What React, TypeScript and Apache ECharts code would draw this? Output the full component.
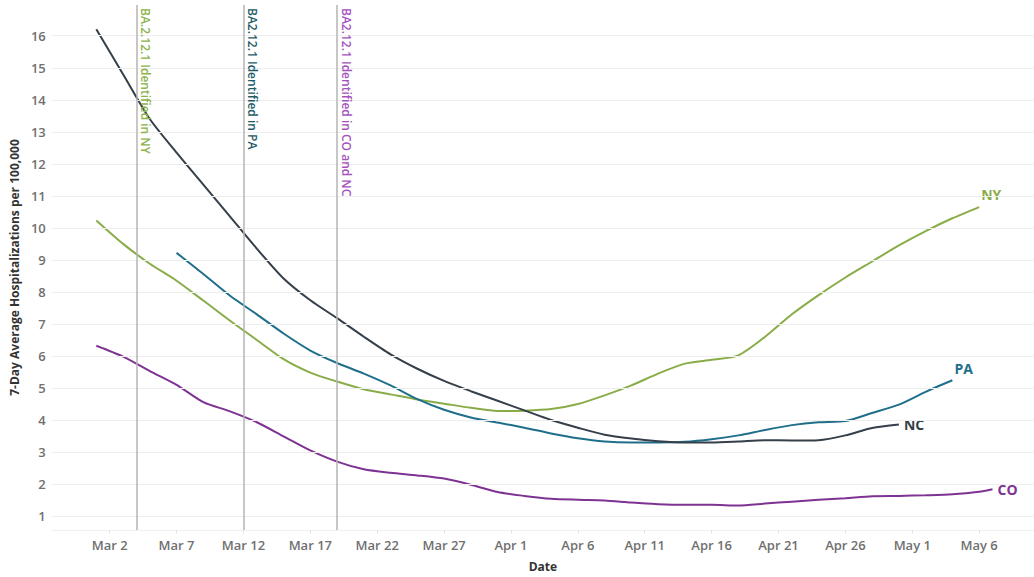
import React, { useEffect, useRef } from "react";
import * as echarts from "echarts";

// Dates (2022) of the 7-day average readings
const dates = [
  "2022-03-01", "2022-03-03", "2022-03-05", "2022-03-07", "2022-03-09", "2022-03-11",
  "2022-03-13", "2022-03-15", "2022-03-17", "2022-03-19", "2022-03-21", "2022-03-23",
  "2022-03-25", "2022-03-27", "2022-03-29", "2022-03-31", "2022-04-02", "2022-04-04",
  "2022-04-06", "2022-04-08", "2022-04-10", "2022-04-12", "2022-04-14", "2022-04-16",
  "2022-04-18", "2022-04-20", "2022-04-22", "2022-04-24", "2022-04-26", "2022-04-28",
  "2022-04-30", "2022-05-02", "2022-05-04", "2022-05-06", "2022-05-07",
];

const nyValues = [
  10.23, 9.5, 8.88, 8.35, 7.73, 7.1, 6.5, 5.9, 5.48, 5.2, 4.96, 4.8,
  4.64, 4.51, 4.38, 4.28, 4.29, 4.34, 4.5, 4.77, 5.08, 5.45, 5.76, 5.88,
  6.02, 6.6, 7.3, 7.9, 8.45, 8.95, 9.45, 9.9, 10.3, 10.65, null,
];
const paValues = [
  null, null, null, 9.22, 8.56, 7.88, 7.3, 6.7, 6.17, 5.78, 5.45, 5.08,
  4.65, 4.32, 4.08, 3.92, 3.76, 3.58, 3.43, 3.33, 3.3, 3.3, 3.32, 3.4,
  3.52, 3.69, 3.84, 3.93, 3.97, 4.22, 4.48, 4.88, 5.24, null, null,
];
const ncValues = [
  16.2, 14.8, 13.4, 12.35, 11.35, 10.35, 9.35, 8.42, 7.74, 7.18, 6.6, 6.05,
  5.6, 5.22, 4.9, 4.6, 4.3, 4.0, 3.76, 3.54, 3.42, 3.34, 3.3, 3.3,
  3.33, 3.37, 3.36, 3.37, 3.52, 3.75, 3.86, null, null, null, null,
];
const coValues = [
  6.32, 5.98, 5.53, 5.1, 4.56, 4.27, 3.93, 3.49, 3.05, 2.7, 2.46, 2.35,
  2.27, 2.17, 1.98, 1.75, 1.63, 1.54, 1.51, 1.49, 1.42, 1.37, 1.35, 1.35,
  1.33, 1.39, 1.45, 1.51, 1.56, 1.62, 1.63, 1.65, 1.68, 1.76, 1.84,
];

const stateNames = ["NY", "PA", "NC", "CO"];
const stateColors = ["#8aac48", "#1f6f8b", "#353f49", "#7e3393"];

const xTickDates = [
  "2022-03-02", "2022-03-07", "2022-03-12", "2022-03-17", "2022-03-22", "2022-03-27",
  "2022-04-01", "2022-04-06", "2022-04-11", "2022-04-16", "2022-04-21", "2022-04-26",
  "2022-05-01", "2022-05-06",
];
const yTicks = [1, 2, 3, 4, 5, 6, 7, 8, 9, 10, 11, 12, 13, 14, 15, 16];

const variantDates = ["2022-03-04", "2022-03-12", "2022-03-19"];
const variantLabels = [
  "BA.2.12.1 Identified in NY",
  "BA2.12.1 Identified in PA",
  "BA2.12.1 Identified in CO and NC",
];
const variantColors = ["#8db34c", "#1d5c68", "#a552bd"];

const X_MIN_DATE = "2022-02-25";
const X_MAX_DATE = "2022-05-10";

const BASE = Date.UTC(2022, 2, 2);
const MONTHS = ["Jan", "Feb", "Mar", "Apr", "May", "Jun", "Jul", "Aug", "Sep", "Oct", "Nov", "Dec"];
const dayOf = (s: string) => {
  const [y, m, d] = s.split("-").map(Number);
  return (Date.UTC(y, m - 1, d) - BASE) / 86400000;
};
const fmtDay = (v: number) => {
  const dt = new Date(BASE + Math.round(v) * 86400000);
  return MONTHS[dt.getUTCMonth()] + " " + dt.getUTCDate();
};

const Y_MIN = 0.565;
const Y_MAX = 16.96;

export default function App() {
  const ref = useRef<HTMLDivElement>(null);

  useEffect(() => {
    if (!ref.current) return;
    const chart = echarts.init(ref.current, undefined, { renderer: "svg" });
    const font = "'Open Sans', 'Noto Sans', sans-serif";

    const seriesValues = [nyValues, paValues, ncValues, coValues];
    const endOffsets = [[-6, -13], [-6, -12], [-3, 0], [-3, 0]];

    const stateSeries = stateNames.map((name, i) => ({
      name,
      type: "line",
      showSymbol: false,
      symbol: "none",
      smooth: 0.25,
      z: 3,
      data: dates
        .map((d, j) => [dayOf(d), seriesValues[i][j]])
        .filter((p) => p[1] !== null && p[1] !== undefined),
      lineStyle: { color: stateColors[i], width: 2 },
      itemStyle: { color: stateColors[i] },
      endLabel: {
        show: true,
        formatter: name,
        color: stateColors[i],
        fontFamily: font,
        fontWeight: 700,
        fontSize: 14,
        offset: endOffsets[i],
      },
    }));

    const option = {
      animation: false,
      backgroundColor: "#ffffff",
      grid: { left: 50, right: 0, top: 5, bottom: 44, containLabel: false },
      xAxis: {
        type: "value",
        min: dayOf(X_MIN_DATE) + 0.67,
        max: dayOf(X_MAX_DATE) + 0.1,
        name: "Date",
        nameLocation: "middle",
        nameGap: 30,
        nameTextStyle: { color: "#333333", fontFamily: font, fontWeight: 700, fontSize: 12 },
        axisLine: { show: true, lineStyle: { color: "#f0f0f0" } },
        axisTick: { show: true, length: 4, lineStyle: { color: "#e6e6e6" }, customValues: xTickDates.map(dayOf) },
        splitLine: { show: false },
        axisLabel: {
          customValues: xTickDates.map(dayOf),
          formatter: (v: number) => fmtDay(v),
          color: "#707070",
          fontFamily: font,
          fontWeight: 600,
          fontSize: 13,
          margin: 8,
        },
      },
      yAxis: {
        type: "value",
        min: Y_MIN,
        max: Y_MAX,
        name: "7-Day Average Hospitalizations per 100,000",
        nameLocation: "middle",
        nameGap: 27,
        nameTextStyle: { color: "#333333", fontFamily: font, fontWeight: 700, fontSize: 12 },
        axisLine: { show: false },
        axisTick: { show: false, customValues: yTicks },
        splitLine: { show: false },
        axisLabel: {
          customValues: yTicks,
          color: "#707070",
          fontFamily: font,
          fontWeight: 600,
          fontSize: 13,
          margin: 6,
        },
      },
      series: [
        {
          name: "grid",
          type: "line",
          data: [],
          z: 1,
          silent: true,
          markLine: {
            silent: true,
            symbol: ["none", "none"],
            label: { show: false },
            lineStyle: { color: "#eeeeee", type: "solid", width: 1 },
            data: yTicks.map((v) => ({ yAxis: v })),
          },
        },
        {
          name: "variants",
          type: "line",
          data: [],
          z: 2,
          silent: true,
          markLine: {
            silent: true,
            symbol: ["none", "none"],
            data: variantDates.map((d, i) => [
              {
                coord: [dayOf(d), Y_MAX],
                lineStyle: { color: "#b5b5b5", type: "solid", width: 1.5 },
                label: {
                  show: true,
                  position: "insideStartTop",
                  formatter: variantLabels[i],
                  color: variantColors[i],
                  fontFamily: font,
                  fontWeight: 600,
                  fontSize: 12,
                  distance: 3,
                },
              },
              { coord: [dayOf(d), Y_MIN] },
            ]),
          },
        },
        ...stateSeries,
      ],
    };

    chart.setOption(option as any);
    return () => chart.dispose();
  }, []);

  return (
    <div
      ref={ref}
      style={{ position: "absolute", left: 0, top: 0, width: 1034, height: 577, background: "#fff" }}
    />
  );
}
